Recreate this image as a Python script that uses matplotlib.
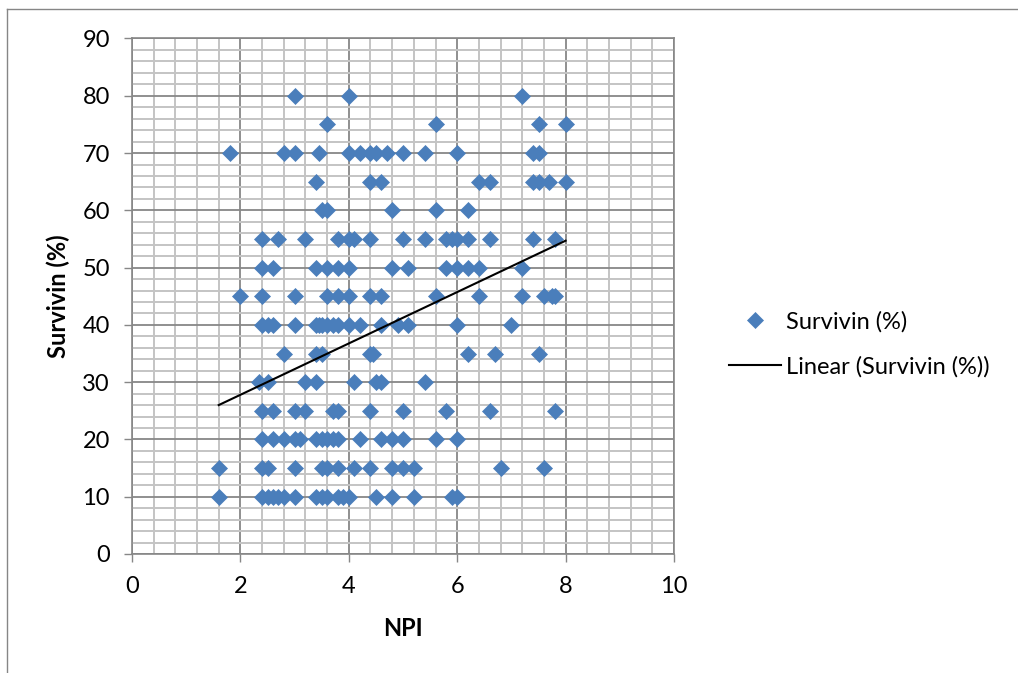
import matplotlib
matplotlib.use("Agg")
import matplotlib.pyplot as plt
import numpy as np
from matplotlib.lines import Line2D

plt.rcParams['font.family'] = ['Lato', 'DejaVu Sans']

# ---- data ----
y80 = [3.0, 4.0, 7.2]
y75 = [3.6, 5.6, 7.5, 8.0]
y70 = [1.8, 2.8, 3.0, 3.45, 4.0, 4.2, 4.4, 4.5, 4.7, 5.0, 5.4, 6.0, 7.4, 7.5]
y65 = [3.4, 4.4, 4.6, 6.4, 6.6, 7.4, 7.5, 7.7, 8.0]
y60 = [3.5, 3.6, 4.8, 5.6, 6.2]
y55 = [2.4, 2.7, 3.2, 3.8, 4.0, 4.1, 4.4, 5.0, 5.4, 5.8, 5.9, 6.0, 6.2, 6.6, 7.4, 7.8]
y50 = [2.4, 2.6, 3.4, 3.6, 3.8, 4.0, 4.8, 5.1, 5.8, 6.0, 6.2, 6.4, 7.2]
y45 = [2.0, 2.4, 3.0, 3.6, 3.8, 4.0, 4.4, 4.6, 5.6, 6.4, 7.2, 7.6, 7.75, 7.8]
y40 = [2.4, 2.5, 2.6, 3.0, 3.4, 3.45, 3.5, 3.6, 3.7, 3.8, 4.0, 4.2, 4.6, 4.9, 5.1, 6.0, 7.0]
y35 = [2.8, 3.4, 3.5, 4.4, 4.45, 6.2, 6.7, 7.5]
y30 = [2.35, 2.5, 3.2, 3.4, 4.1, 4.5, 4.6, 5.4]
y25 = [2.4, 2.6, 3.0, 3.2, 3.7, 3.8, 4.4, 5.0, 5.8, 6.6, 7.8]
y20 = [2.4, 2.6, 2.8, 3.0, 3.1, 3.4, 3.5, 3.6, 3.7, 3.8, 4.2, 4.6, 4.8, 5.0, 5.6, 6.0]
y15 = [1.6, 2.4, 2.5, 3.0, 3.5, 3.6, 3.8, 4.1, 4.4, 4.8, 5.0, 5.2, 6.8, 7.6]
y10 = [1.6, 2.4, 2.5, 2.6, 2.7, 2.8, 3.0, 3.4, 3.5, 3.6, 3.8, 3.9, 4.0, 4.5, 4.8, 5.2, 5.9, 6.0]

survivin_levels = [80, 75, 70, 65, 60, 55, 50, 45, 40, 35, 30, 25, 20, 15, 10]
npi_rows = [y80, y75, y70, y65, y60, y55, y50, y45, y40, y35, y30, y25, y20, y15, y10]

# linear trendline endpoints
trend_x = [1.6, 8.0]
trend_y = [26.0, 54.7]

x_ticks = [0, 2, 4, 6, 8, 10]
y_ticks = [0, 10, 20, 30, 40, 50, 60, 70, 80, 90]

npi = np.concatenate([np.array(r, dtype=float) for r in npi_rows])
surv = np.concatenate([np.full(len(r), lvl, dtype=float) for r, lvl in zip(npi_rows, survivin_levels)])

# ---- figure ----
W, H = 1018, 673
fig = plt.figure(figsize=(W / 100, H / 100), dpi=100)
fig.patch.set_facecolor('white')

frame_c = '#868686'
# outer chart frame: only left and top edges are visible in the reference
fig.add_artist(Line2D([7 / W, 7 / W], [0, 1 - 9 / H], transform=fig.transFigure,
                      color=frame_c, linewidth=1.0))
fig.add_artist(Line2D([7 / W, 1.01], [1 - 9 / H, 1 - 9 / H], transform=fig.transFigure,
                      color=frame_c, linewidth=1.0))

ax = fig.add_axes([132 / W, 1 - 554 / H, (674 - 132) / W, (554 - 38.5) / H])
ax.set_xlim(0, 10)
ax.set_ylim(0, 90)

major_c = '#878787'
minor_c = '#c4c4c4'
FS = 17
ax.set_xticks(x_ticks)
ax.set_yticks(y_ticks)
ax.set_xticks(np.arange(0, 10.01, 0.4), minor=True)
ax.set_yticks(np.arange(0, 90.01, 2), minor=True)
ax.grid(which='minor', color=minor_c, linewidth=1.4)
ax.grid(which='major', color=major_c, linewidth=1.3)
ax.set_axisbelow(True)
ax.tick_params(which='minor', length=0)
ax.tick_params(which='major', direction='out', length=6, width=1.0, color=major_c,
               labelsize=FS, pad=10, labelcolor='black')
for s in ax.spines.values():
    s.set_color(major_c)
    s.set_linewidth(1.2)

ax.plot(npi, surv, linestyle='none', marker='D', markersize=8.6,
        markerfacecolor='#4A7EBB', markeredgecolor='#4A7EBB', markeredgewidth=0.5,
        label='Survivin (%)', zorder=3)
ax.plot(trend_x, trend_y, color='black', linewidth=1.5, label='Linear (Survivin (%))', zorder=4)

ax.set_xlabel('NPI', fontsize=FS, fontweight='bold', labelpad=14)
ax.set_ylabel('Survivin (%)', fontsize=FS, fontweight='bold', labelpad=9)

leg = fig.legend(loc='center left', bbox_to_anchor=(729 / W, 1 - 344 / H), frameon=False,
                 fontsize=FS, handlelength=2.2, handletextpad=0.22, labelspacing=1.0,
                 borderaxespad=0, borderpad=0)

fig.savefig('out.png', dpi=100, facecolor='white')
